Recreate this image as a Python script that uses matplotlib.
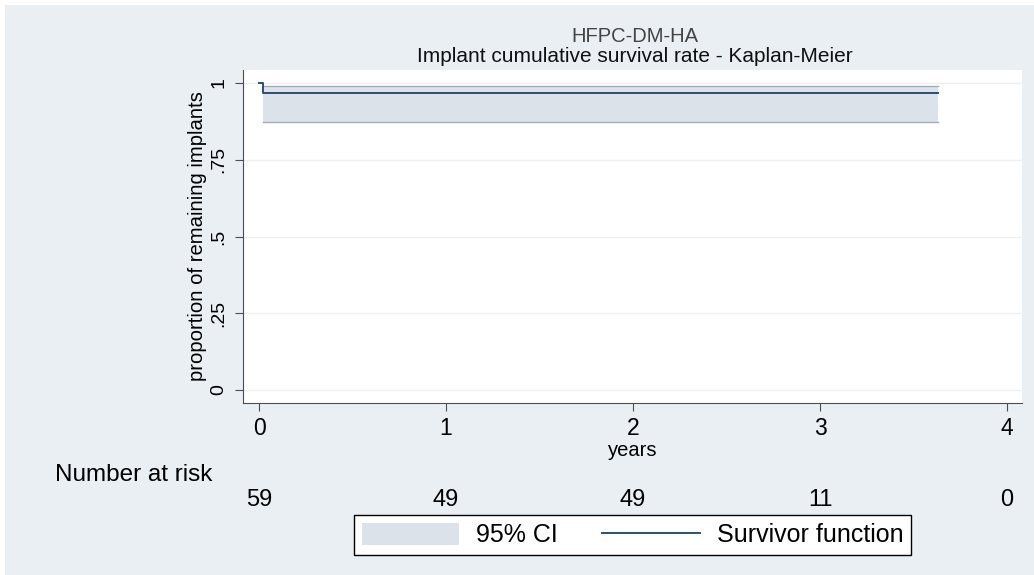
import matplotlib
matplotlib.use("Agg")
import matplotlib.pyplot as plt
from matplotlib.patches import Patch, Rectangle
from matplotlib.lines import Line2D
import matplotlib.transforms as mtransforms

plt.rcParams['font.family'] = ['Liberation Sans', 'DejaVu Sans']

# Data
times = [0.0, 0.02, 3.63]
survival = [1.0, 0.966, 0.966]
ci_lower = [1.0, 0.873, 0.873]
ci_upper = [1.0, 0.991, 0.991]
risk_times = [0, 1, 2, 3, 4]
at_risk = [59, 49, 49, 11, 0]
yticks = [0, 0.25, 0.5, 0.75, 1]
ytick_labels = ['0', '.25', '.5', '.75', '1']

bg = '#e9eff3'
band = '#dce2e9'
line_c = '#2b4f74'
W, H = 1034, 575

fig = plt.figure(figsize=(10.34, 5.75), dpi=100, facecolor='white')
fig.patches.append(Rectangle((5 / W, 0), 1, 1 - 5 / H, transform=fig.transFigure,
                             facecolor=bg, edgecolor='none', zorder=-10))
ax = fig.add_axes([243 / W, 1 - 403 / H, (1022 - 243) / W, (403 - 70) / H])
ax.set_facecolor('white')

ax.fill_between(times[1:], ci_lower[1:], ci_upper[1:], step='post', color=band, lw=0)
ax.step(times[1:], ci_lower[1:], where='post', color='#a3acb5', lw=1)
ax.step(times[1:], ci_upper[1:], where='post', color='#a3acb5', lw=1)
ax.step(times, survival, where='post', color=line_c, lw=1.4)

ax.set_xlim(-0.0856, 4.08)
ax.set_ylim(-0.0423, 1.0423)
ax.set_yticks(yticks)
ax.set_yticklabels(ytick_labels, rotation=90, va='center', fontsize=14)
ax.set_xticks(risk_times)
ax.set_xticklabels([str(t) for t in risk_times], fontsize=16.5)
ax.grid(axis='y', color='#edf0f3', lw=1)
ax.set_axisbelow(True)
for s in ['top', 'right']:
    ax.spines[s].set_visible(False)
for s in ['left', 'bottom']:
    ax.spines[s].set_color('#4d4d4d')
ax.tick_params(axis='both', direction='out', length=6, color='#4d4d4d', pad=4)
ax.tick_params(axis='y', pad=5)
ax.set_xlabel('years', fontsize=14.5, labelpad=1)
ax.set_ylabel('proportion of remaining implants', fontsize=14.6, labelpad=3)

fig.text(0.614, 1 - 36 / H, 'HFPC-DM-HA', ha='center', va='center', fontsize=14.5, color='#444444')
fig.text(0.614, 1 - 57 / H, 'Implant cumulative survival rate - Kaplan-Meier',
         ha='center', va='center', fontsize=15, color='#111111')

fig.text(55 / W, 1 - 475 / H, 'Number at risk', ha='left', va='center', fontsize=17.5)
trans = mtransforms.blended_transform_factory(ax.transData, fig.transFigure)
for t, n in zip(risk_times, at_risk):
    ax.text(t, 1 - 500 / H, str(n), ha='center', va='center', fontsize=17, transform=trans)

handles = [Patch(facecolor=band, edgecolor='none'), Line2D([0], [0], color=line_c, lw=1.4)]
leg = fig.legend(handles, ['95% CI', 'Survivor function'], ncol=2, loc='center',
                 bbox_to_anchor=(632.5 / W, 1 - 535 / H), fontsize=18, frameon=True,
                 fancybox=False, edgecolor='black', facecolor='white', framealpha=1,
                 handlelength=3.9, handleheight=1.0, handletextpad=0.68,
                 columnspacing=1.76, borderpad=0.3, borderaxespad=0)
leg.get_frame().set_linewidth(1)

fig.savefig('out.png', dpi=100, facecolor='white')
